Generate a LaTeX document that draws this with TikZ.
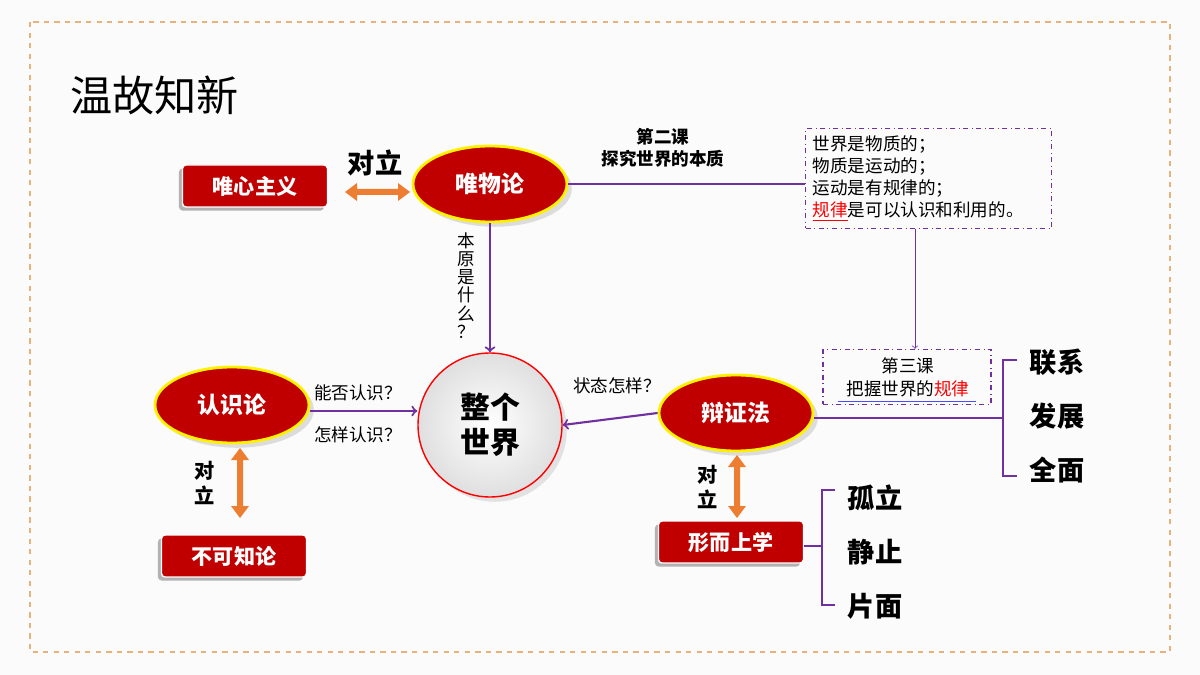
\documentclass[tikz,border=0pt]{standalone}
\usepackage{fontspec}
\setmainfont{Noto Sans CJK SC}
\usetikzlibrary{shapes.geometric,shadows}
\definecolor{darkred}{HTML}{C00000}
\definecolor{arrorange}{HTML}{ED7D31}
\definecolor{linepurple}{HTML}{7030A0}
\definecolor{frameorange}{HTML}{E8B27A}
\tikzset{
  oval/.style={ellipse,draw=yellow,line width=1.6pt,fill=darkred,text=white,
    minimum width=154*0.02cm,minimum height=76*0.02cm,font=\fontsize{13}{15}\selectfont\bfseries,
    drop shadow={opacity=0.25}},
  redbox/.style={rectangle,rounded corners=2pt,fill=darkred,draw=white,line width=0.8pt,text=white,
    minimum width=145*0.02cm,minimum height=42*0.02cm,font=\fontsize{12}{14}\selectfont\bfseries,
    drop shadow={shadow xshift=-2pt,shadow yshift=-2pt,fill=gray!60,opacity=1}},
  purp/.style={draw=linepurple,line width=1.2pt},
  big/.style={font=\fontsize{15.5}{18}\selectfont\bfseries},
  small/.style={font=\fontsize{10}{12.5}\selectfont},
}
\newcommand{\dblarrowh}[3]{% x1 x2 y
  \fill[arrorange] (#1,#3) -- ++(12,-9) -- ++(0,6) -- (#2-12,#3-3) -- ++(0,-6) -- (#2,#3)
    -- (#2-12,#3+9) -- ++(0,-6) -- (#1+12,#3+3) -- ++(0,6) -- cycle;}
\newcommand{\dblarrowv}[3]{% y1 y2 x
  \fill[arrorange] (#3,#1) -- ++(-9,12) -- ++(6,0) -- (#3-3,#2-12) -- ++(-6,0) -- (#3,#2)
    -- (#3+9,#2-12) -- ++(-6,0) -- (#3+3,#1+12) -- ++(6,0) -- cycle;}
\begin{document}
\begin{tikzpicture}[x=0.02cm,y=-0.02cm]
\fill[white!97!gray] (0,0) rectangle (1200,675);
\useasboundingbox (0,0) rectangle (1200,675);
\draw[frameorange,dashed,line width=1pt] (30,22) rectangle (1170,652);
\node[anchor=west,font=\fontsize{24}{28}\selectfont] (title) at (64,95) {温故知新};
% top row
\node[redbox] (wxzy) at (255,186) {唯心主义};
\node[big] (dl1) at (375,163) {对立};
\dblarrowh{345}{410}{192}
\node[oval] (wwl) at (490,184) {唯物论};
\node[font=\fontsize{10}{12.5}\selectfont\bfseries,align=center] (k2) at (663,148) {第二课\\探究世界的本质};
\node[draw=linepurple,dash dot,thick,anchor=north west,align=left,small,inner sep=4pt,
  text width=232*0.02cm] (law) at (805,128)
  {世界是物质的；\\物质是运动的；\\运动是有规律的；\\{\color{red}\underline{规律}}是可以认识和利用的。};
\draw[purp] (wwl.east) -- (wwl.east -| law.west);
% centre
\node[circle,draw=red,thick,minimum size=144*0.02cm,inner color=white,outer color=gray!25,
  font=\fontsize{17}{20}\selectfont\bfseries,align=center,drop shadow={opacity=0.2}] (world) at (490,425) {整个\\世界};
\draw[purp,->] (wwl.south) -- (world.north);
\node[small,align=center,anchor=north,inner sep=0pt,font=\fontsize{10}{10.4}\selectfont] (by) at (466,232) {本\\原\\是\\什\\么\\？};
% left
\node[oval] (rsl) at (232,405) {认识论};
\draw[purp,->] (rsl.east |- 0,411) -- (world.west |- 0,411);
\node[small] (nf) at (358,393) {能否认识？};
\node[small] (zy) at (358,435) {怎样认识？};
\node[font=\fontsize{11.5}{14}\selectfont\bfseries,align=center] (dl2) at (205,483) {对\\立};
\dblarrowv{448}{518}{240}
\node[redbox] (bkz) at (234,556) {不可知论};
% right
\node[oval] (bzf) at (736,413) {辩证法};
\draw[purp,->] (bzf.west) -- (world.east);
\node[small] (zt) at (617,386) {状态怎样？};
\node[draw=linepurple,dash dot,thick,minimum width=168*0.02cm,minimum height=55*0.02cm] (k3) at (907,377) {};
\node[small] (k3a) at (908,366) {第三课};
\node[small] (k3b) at (908,389) {把握世界的{\color{red}规律}};
\draw[blue!70,thick] (k3b.south west) ++(-2,-2) coordinate (u1) -- (k3b.south east |- u1);
\draw[purp,thin,->] (law.south -| 915,0) -- (k3.north -| 915,0);
\coordinate (b1) at (1003,418);
\draw[purp] (bzf.east |- b1) -- (b1);
\draw[purp] (1017,360) -- (1003,360) -- (1003,476) -- (1017,476);
\node[big] (lx) at (1057,362) {联系};
\node[big] (fz) at (1057,416) {发展};
\node[big] (qm) at (1057,470) {全面};
\node[font=\fontsize{11.5}{14}\selectfont\bfseries,align=center] (dl3) at (708,487) {对\\立};
\dblarrowv{455}{518}{737}
\node[redbox] (xs) at (731,542) {形而上学};
\coordinate (b2) at (822,546);
\draw[purp] (xs.east |- b2) -- (b2);
\draw[purp] (835,490) -- (822,490) -- (822,605) -- (835,605);
\node[big] (gl) at (875,498) {孤立};
\node[big] (jz) at (875,552) {静止};
\node[big] (pm) at (875,606) {片面};
\end{tikzpicture}
\end{document}
